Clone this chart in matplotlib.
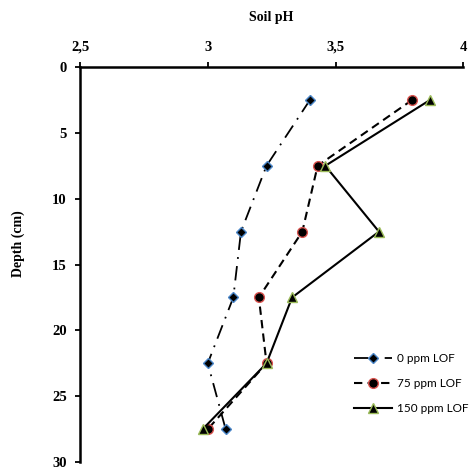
import matplotlib
matplotlib.use("Agg")
import matplotlib.pyplot as plt

depth = [2.5, 7.5, 12.5, 17.5, 22.5, 27.5]
ph_0 = [3.40, 3.23, 3.13, 3.10, 3.00, 3.07]
ph_75 = [3.80, 3.43, 3.37, 3.20, 3.23, 3.00]
ph_150 = [3.87, 3.46, 3.67, 3.33, 3.23, 2.98]
labels = ["0 ppm LOF", "75 ppm LOF", "150 ppm LOF"]
xticks = [2.5, 3, 3.5, 4]
xticklabels = ["2,5", "3", "3,5", "4"]
yticks = [0, 5, 10, 15, 20, 25, 30]

fig = plt.figure(figsize=(4.72, 4.72), dpi=100)
ax = fig.add_axes([0.1695, 0.021, 0.812, 0.837])

serif = "Liberation Serif"
ax.plot(ph_0, depth, color="black", lw=1.3, linestyle=(0, (8, 4, 1, 4)),
        marker="D", markersize=5, markerfacecolor="black", markeredgecolor="#4a86c8",
        markeredgewidth=1.0, label=labels[0])
ax.plot(ph_75, depth, color="black", lw=1.5, linestyle=(0, (4, 2.5)),
        marker="o", markersize=7, markerfacecolor="black", markeredgecolor="#d9534f",
        markeredgewidth=1.0, label=labels[1])
ax.plot(ph_150, depth, color="black", lw=1.5, linestyle="-",
        marker="^", markersize=7, markerfacecolor="black", markeredgecolor="#9bbb59",
        markeredgewidth=1.0, label=labels[2])

ax.set_xlim(2.5, 4)
ax.set_ylim(30, 0)
ax.xaxis.tick_top()
ax.xaxis.set_label_position("top")
ax.set_xticks(xticks)
ax.set_xticklabels(xticklabels, fontfamily=serif, fontweight="bold", fontsize=10.5)
ax.set_yticks(yticks)
ax.set_yticklabels([str(v) for v in yticks], fontfamily=serif, fontweight="bold", fontsize=10.5)
ax.tick_params(axis="both", direction="out", length=3.5, width=1.3)
ax.tick_params(axis="y", pad=6)
ax.tick_params(axis="x", pad=6)
for s in ["right", "bottom"]:
    ax.spines[s].set_visible(False)
for s in ["top", "left"]:
    ax.spines[s].set_linewidth(1.8)

ax.set_xlabel("Soil pH", fontfamily=serif, fontweight="bold", fontsize=10, labelpad=14)
ax.set_ylabel("Depth (cm)", fontfamily=serif, fontweight="bold", fontsize=10)
ax.yaxis.set_label_coords(-0.144, 0.554)

leg = fig.legend(loc="upper left", bbox_to_anchor=(0.727, 0.275), frameon=False,
                 prop={"family": "Lato", "size": 8.5}, handlelength=3.2,
                 handletextpad=0.45, labelspacing=1.2)

fig.savefig("out.png", dpi=100)
